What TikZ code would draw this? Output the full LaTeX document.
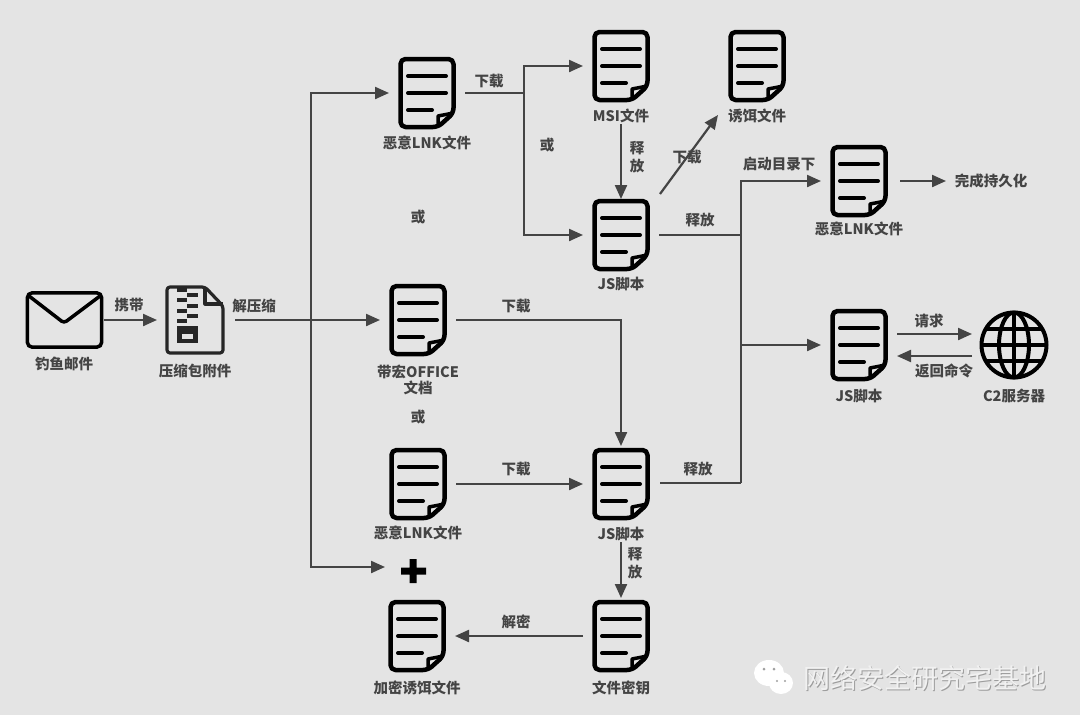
\documentclass[tikz,border=0pt]{standalone}
\usepackage{fontspec}
\setmainfont{Noto Sans CJK SC}
\usetikzlibrary{arrows.meta}
\definecolor{bgGray}{HTML}{E4E4E4}
\definecolor{lineGray}{HTML}{444444}
\tikzset{
    docbox/.style={minimum width=57pt, minimum height=72pt, inner sep=0pt, outer xsep=9.5pt, outer ysep=0pt},
    lbl/.style={inner sep=1pt, text=lineGray, font=\fontsize{14.5}{16.5}\selectfont\bfseries, align=center},
    conn/.style={draw=lineGray, line width=2.2pt},
    arr/.style={conn, -{Triangle[length=14pt, width=12pt]}},
    icon/.style={draw=black, line width=4.5pt, line join=round}
}
\newcommand{\docicon}[1]{
    \draw[icon, shift={(#1.center)}, rounded corners=5pt] (11,34) -- (-26.5,34) -- (-26.5,-34) -- (26.5,-34) -- (26.5,20) -- cycle;
    \draw[icon, shift={(#1.center)}, line width=3.5pt] (11,34) -- (11,23) -- (26.5,20);
    \draw[icon, shift={(#1.center)}, line width=4pt, line cap=round] (-19,-17) -- (19,-17) (-19,0) -- (19,0) (-19,17) -- (5,17);
}
\begin{document}
\begin{tikzpicture}[x=1pt, y=-1pt]
    \fill[bgGray] (0,0) rectangle (1080,715);
    \useasboundingbox (0,0) rectangle (1080,715);

    % document icons
    \node[docbox] (lnkTop) at (427,93) {}; \docicon{lnkTop}
    \node[docbox] (msi) at (621,66) {}; \docicon{msi}
    \node[docbox] (bait) at (757,66) {}; \docicon{bait}
    \node[docbox] (jsTop) at (621,235) {}; \docicon{jsTop}
    \node[docbox] (lnkRight) at (859,181) {}; \docicon{lnkRight}
    \node[docbox] (jsRight) at (859,345) {}; \docicon{jsRight}
    \node[docbox] (office) at (418,320) {}; \docicon{office}
    \node[docbox] (lnkLow) at (418,484) {}; \docicon{lnkLow}
    \node[docbox] (jsLow) at (621,484) {}; \docicon{jsLow}
    \node[docbox] (keyfile) at (621,636) {}; \docicon{keyfile}
    \node[docbox] (encbait) at (417,636) {}; \docicon{encbait}

    % mail
    \node[minimum width=74pt, minimum height=54pt, inner sep=0pt] (mail) at (64.5,320) {};
    \draw[icon, line width=3.5pt, rounded corners=5pt] (mail.north west) rectangle (mail.south east);
    \draw[icon, line width=3.5pt, rounded corners=3pt] (29,296) -- (64,323) -- (100,296);

    % zip
    \node[minimum width=58pt, minimum height=68pt, inner sep=0pt, outer xsep=9pt] (zip) at (195,320) {};
    \draw[icon, line width=3.2pt, draw=black!85, rounded corners=3pt] (167,287) -- (205,287) -- (223,306) -- (223,353) -- (167,353) -- cycle;
    \draw[icon, line width=3.2pt, draw=black!85] (205,287) -- (205,304) -- (223,304);
    \foreach \ty in {288,298,309,319} \fill[black!85] (177,\ty) rectangle (187,\ty+4);
    \foreach \ty in {293,304,314} \fill[black!85] (187,\ty) rectangle (198,\ty+4);
    \fill[black!85] (177,326) rectangle (198,343);
    \fill[bgGray] (182,334) rectangle (193,339);

    % globe
    \node[circle, minimum size=68pt, inner sep=0pt, outer sep=8pt] (globe) at (1014,345) {};
    \draw[icon, line width=4pt] (globe.center) circle (32.5);
    \draw[icon, line width=4pt] (globe.center) ellipse (15 and 32.5);
    \draw[icon, line width=4pt] (1014,313) -- (1014,377) (982,345) -- (1046,345) (987,329) -- (1041,329) (987,361) -- (1041,361);

    % plus
    \node[inner sep=0pt, minimum size=26pt] (plus) at (413,571) {};
    \fill[black] (409.5,559) rectangle (416.5,583) (401,567.5) rectangle (426,574.5);

    % labels
    \node[lbl] (mailT) at (64,364) {钓鱼邮件};
    \node[lbl] (zipT) at (195,371) {压缩包附件};
    \node[lbl] (carryT) at (129,305) {携带};
    \node[lbl] (unzipT) at (254,306) {解压缩};
    \node[lbl] (lnkTopT) at (427,143) {恶意LNK文件};
    \node[lbl] (dlTopT) at (489,81) {下载};
    \node[lbl] (orTopT) at (547,145) {或};
    \node[lbl] (orMidT) at (418,217) {或};
    \node[lbl] (msiT) at (621,116) {MSI文件};
    \node[lbl] (baitT) at (757,116) {诱饵文件};
    \node[lbl] (relMsiT) at (637,157) {释\\[2pt]放};
    \node[lbl] (dlBaitT) at (687,157) {下载};
    \node[lbl] (startT) at (779,164) {启动目录下};
    \node[lbl] (lnkRightT) at (859,229) {恶意LNK文件};
    \node[lbl] (persistT) at (991,181) {完成持久化};
    \node[lbl] (jsTopT) at (621,284) {JS脚本};
    \node[lbl] (relTopT) at (700,220) {释放};
    \node[lbl] (dlOfficeT) at (516,306) {下载};
    \node[lbl] (officeT) at (418,380) {带宏OFFICE\\文档};
    \node[lbl] (orLowT) at (418,417) {或};
    \node[lbl] (dlLowT) at (516,469) {下载};
    \node[lbl] (lnkLowT) at (418,533) {恶意LNK文件};
    \node[lbl] (jsLowT) at (621,534) {JS脚本};
    \node[lbl] (relLowT) at (698,469) {释放};
    \node[lbl] (relKeyT) at (635,563) {释\\[2pt]放};
    \node[lbl] (decT) at (516,622) {解密};
    \node[lbl] (encT) at (417,688) {加密诱饵文件};
    \node[lbl] (keyT) at (621,688) {文件密钥};
    \node[lbl] (reqT) at (929,321) {请求};
    \node[lbl] (retT) at (944,371) {返回命令};
    \node[lbl] (jsRightT) at (859,396) {JS脚本};
    \node[lbl] (globeT) at (1014,396) {C2服务器};

    % junctions
    \coordinate (splitZip) at (311,320);
    \coordinate (splitDl) at (524,93);
    \coordinate (busTop) at (741,235);
    \coordinate (busMid) at (741,345);
    \coordinate (busLow) at (741,483);
    \coordinate (baitIn) at (718,115);
    \coordinate (baitOut) at (660,194);
    \coordinate (persistIn) at (946,181);
    \coordinate (persistOut) at (900,181);
    \coordinate (plusIn) at (385,567);

    % connectors
    \draw[arr] (mail.east) ++(2,0) -- (zip.west);
    \draw[arr] (zip.east) ++(2,0) -- (office.west);
    \draw[arr] (splitZip) |- (lnkTop.west);
    \draw[arr] (splitZip) |- (plusIn);
    \draw[conn] (lnkTop.east) -- (splitDl);
    \draw[arr] (splitDl) |- (msi.west);
    \draw[arr] (splitDl) |- (jsTop.west);
    \draw[arr] (msiT.south) -- (jsTop.north);
    \draw[arr] (baitOut) -- (baitIn);
    \draw[conn] (jsTop.east) -- (busTop);
    \draw[conn] (jsLow.east) ++(1,-1) -- (busLow);
    \draw[conn] (busLow) -- (busTop);
    \draw[arr] (busTop) |- (lnkRight.west);
    \draw[arr] (busMid) -- (jsRight.west);
    \draw[arr] (persistOut) -- (persistIn);
    \draw[arr] ([yshift=11pt]jsRight.east) -- ([yshift=11pt]globe.west);
    \draw[arr] ([yshift=-11pt]globe.west) -- ([yshift=-11pt]jsRight.east);
    \draw[arr, shorten >=2pt] (office.east) -| (jsLow.north);
    \draw[arr] (lnkLow.east) -- (jsLow.west);
    \draw[arr, shorten >=2pt] (jsLowT.south) -- (keyfile.north);
    \draw[arr] (keyfile.west) -- (encbait.east);

    % watermark
    \fill[white] (769,673) ellipse (15 and 13) (776,688) -- (771,682) -- (780,680) -- cycle;
    \fill[white] (781,683) ellipse (12 and 11);
    \fill[bgGray!70!black] (764,669) circle (1.5) (774,669) circle (1.5) (777,681) circle (1.2) (785,681) circle (1.2);
    \node[inner sep=0pt, text=lineGray!45!bgGray, font=\fontsize{27}{29}\selectfont] (markS) at (926,679) {网络安全研究宅基地};
    \node[inner sep=0pt, text=bgGray!50!white, font=\fontsize{27}{29}\selectfont] (mark) at (925,678) {网络安全研究宅基地};
\end{tikzpicture}
\end{document}
